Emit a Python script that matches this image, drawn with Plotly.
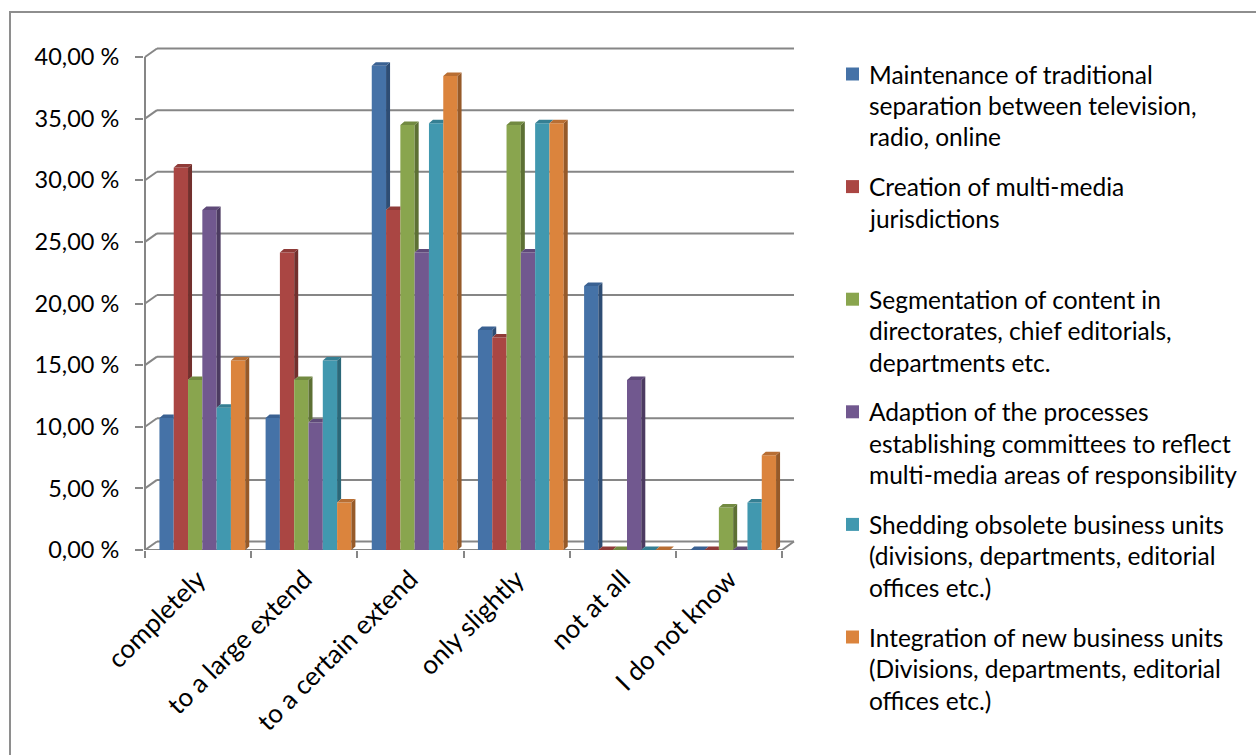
import plotly.graph_objects as go

# ---------------- data ----------------
categories = ["completely", "to a large extend", "to a certain extend",
              "only slightly", "not at all", "I do not know"]

series_names = [
    "Maintenance of traditional separation between television, radio, online",
    "Creation of multi-media jurisdictions",
    "Segmentation of content in directorates, chief editorials, departments etc.",
    "Adaption of the processes establishing committees to reflect multi-media areas of responsibility",
    "Shedding obsolete business units (divisions, departments, editorial offices etc.)",
    "Integration of new business units (Divisions, departments, editorial offices etc.)",
]
legend_lines = [
    ["Maintenance of traditional", "separation between television,", "radio, online"],
    ["Creation of multi-media", "jurisdictions"],
    ["Segmentation of content in", "directorates, chief editorials,", "departments etc."],
    ["Adaption of the processes", "establishing committees to reflect", "multi-media areas of responsibility"],
    ["Shedding obsolete business units", "(divisions, departments, editorial", "offices etc.)"],
    ["Integration of new business units", "(Divisions, departments, editorial", "offices etc.)"],
]

maintenance = [10.71, 10.71, 39.29, 17.86, 21.43, 0.00]
creation = [31.03, 24.14, 27.59, 17.24, 0.00, 0.00]
segmentation = [13.79, 13.79, 34.48, 34.48, 0.00, 3.45]
adaption = [27.59, 10.34, 24.14, 24.14, 13.79, 0.00]
shedding = [11.54, 15.38, 34.62, 34.62, 0.00, 3.85]
integration = [15.38, 3.85, 38.46, 34.62, 0.00, 7.69]

y_tick_values = [0, 5, 10, 15, 20, 25, 30, 35, 40]
y_tick_labels = ["0,00 %", "5,00 %", "10,00 %", "15,00 %", "20,00 %",
                 "25,00 %", "30,00 %", "35,00 %", "40,00 %"]

# ---------------- styles ----------------
series_values = [maintenance, creation, segmentation, adaption, shedding, integration]
front_colors = ["#4572A7", "#AA4643", "#89A54E", "#71588F", "#4198AF", "#DB843D"]
side_colors = ["#2E4D74", "#72302D", "#5D7034", "#4C3B61", "#2B6879", "#965A29"]
cap_colors = ["#3A6192", "#8F3B38", "#728A41", "#5F4A79", "#357F93", "#B86E33"]
grid_color = "#868686"
FONT = "Lato"
FS_YTICK = 23.5
FS_XTICK = 26
FS_LEG = 24.5

W, H = 1256, 755
PLOT_L, PLOT_R = 144, 795
AXIS_PX = 145
ZERO_PX, FORTY_PX = 550, 57
UX = (782 - 145) / 6.0                  # px per category
UY = (ZERO_PX - FORTY_PX) / 40.0        # px per percent
PLOT_B = ZERO_PX
PLOT_T = 47
x_range = [-0.5 - (AXIS_PX - PLOT_L) / UX, -0.5 + (PLOT_R - AXIS_PX) / UX]
y_range = [0, (PLOT_B - PLOT_T) / UY]

bw = 14.3 / UX                  # bar width (data units)
shift = 0.04
dx, dy = 4 / UX, 3.5 / UY       # bar depth
dxw, dyw = 12 / UX, 8.5 / UY    # wall depth

xs = list(range(len(categories)))
fig = go.Figure()

n = len(series_values)
offsets = [-3 * bw + i * bw + shift for i in range(n)]

for i, vals in enumerate(series_values):
    fig.add_trace(go.Bar(x=xs, y=vals, width=bw, offset=offsets[i],
                         marker=dict(color=front_colors[i], line=dict(width=0)),
                         name=series_names[i], showlegend=False,
                         hovertemplate="%{y:.2f} %<extra></extra>"))

# 3D sides and caps derived from the values
for i, vals in enumerate(series_values):
    sx, sy, cx, cy = [], [], [], []
    for j, v in enumerate(vals):
        xl = j + offsets[i]
        xr = xl + bw
        vn = series_values[i + 1][j] if i < n - 1 else None
        if vn is None or v > vn:
            b = 0 if vn is None else max(vn, 0)
            sx += [xr, xr + dx, xr + dx, xr, xr, None]
            sy += [b, b + dy, v + dy, v, b, None]
        if vn is not None and vn > v:
            cx += [xl, xl + dx, xr, xr, xl, None]
            cy += [v, v + dy, v + dy, v, v, None]
        else:
            cx += [xl, xl + dx, xr + dx, xr, xl, None]
            cy += [v, v + dy, v + dy, v, v, None]
    fig.add_trace(go.Scatter(x=sx, y=sy, mode="lines", fill="toself",
                             fillcolor=side_colors[i], line=dict(width=0, color=side_colors[i]),
                             hoverinfo="skip", showlegend=False))
    fig.add_trace(go.Scatter(x=cx, y=cy, mode="lines", fill="toself",
                             fillcolor=cap_colors[i], line=dict(width=0, color=cap_colors[i]),
                             hoverinfo="skip", showlegend=False))

# dummy trace for the tick-mark axis
fig.add_trace(go.Scatter(x=[None], y=[None], xaxis="x2", showlegend=False, hoverinfo="skip"))

shapes = []
xa, xb = -0.5, len(categories) - 0.5
gl = dict(color=grid_color, width=2)
for t in y_tick_values:
    shapes.append(dict(type="line", xref="x", yref="y", x0=xa + dxw, x1=xb + dxw,
                       y0=t + dyw, y1=t + dyw, line=gl, layer="below"))
    shapes.append(dict(type="line", xref="x", yref="y", x0=xa, x1=xa + dxw,
                       y0=t, y1=t + dyw, line=gl, layer="below"))
shapes.append(dict(type="line", xref="x", yref="y", x0=xa, x1=xb, y0=0, y1=0, line=gl, layer="below"))
shapes.append(dict(type="line", xref="x", yref="y", x0=xb, x1=xb + dxw, y0=0, y1=dyw, line=gl, layer="below"))
shapes.append(dict(type="line", xref="x", yref="y", x0=xa, x1=xa, y0=0, y1=y_tick_values[-1], line=gl, layer="below"))

PW, PH = PLOT_R - PLOT_L, PLOT_B - PLOT_T
def px(xp):
    return (xp - PLOT_L) / PW
def py(yp):
    return (PLOT_B - yp) / PH

# outer frame
shapes.append(dict(type="rect", xref="paper", yref="paper", x0=px(10), x1=px(1300),
                   y0=py(800), y1=py(12), line=dict(color="#8E8E8E", width=2),
                   fillcolor="rgba(0,0,0,0)", layer="below"))

annotations = []
first_y, entry_step, line_step = 74, 112.6, 31.5
for i, lines in enumerate(legend_lines):
    y0 = first_y + i * entry_step
    shapes.append(dict(type="rect", xref="paper", yref="paper",
                       x0=px(846), x1=px(859), y0=py(y0 + 6.5), y1=py(y0 - 6.5),
                       fillcolor=front_colors[i], line=dict(width=0)))
    for k, txt in enumerate(lines):
        annotations.append(dict(xref="paper", yref="paper", x=px(867), y=py(y0 + k * line_step),
                                text=txt, showarrow=False, xanchor="left", yanchor="middle",
                                font=dict(family=FONT, size=FS_LEG, color="#000000")))

fig.update_layout(
    width=W, height=H,
    margin=dict(l=PLOT_L, r=W - PLOT_R, t=PLOT_T, b=H - PLOT_B, pad=0),
    paper_bgcolor="white", plot_bgcolor="white",
    barmode="overlay",
    showlegend=False,
    font=dict(family=FONT, size=FS_YTICK, color="#000000"),
    xaxis=dict(range=x_range, tickmode="array", tickvals=xs, ticktext=categories,
               tickangle=-45, ticks="", showgrid=False, zeroline=False, showline=False,
               ticklabelstandoff=8,
               tickfont=dict(family=FONT, size=FS_XTICK, color="#000000")),
    xaxis2=dict(range=x_range, overlaying="x", anchor="y", side="bottom",
                tickmode="array", tickvals=[k - 0.5 for k in range(len(categories) + 1)],
                ticks="outside", ticklen=7, tickwidth=2, tickcolor=grid_color,
                showticklabels=False, showgrid=False, zeroline=False, showline=False),
    yaxis=dict(range=y_range, tickmode="array", tickvals=y_tick_values, ticktext=y_tick_labels,
               ticks="outside", ticklen=8, tickwidth=2, tickcolor=grid_color,
               showgrid=False, zeroline=False, showline=False, ticklabelstandoff=11,
               tickfont=dict(family=FONT, size=FS_YTICK, color="#000000")),
    shapes=shapes,
    annotations=annotations,
)

fig.write_html("out.html", config={"displayModeBar": False},
               post_script="document.body.style.margin='0px';document.body.style.overflow='hidden';")
